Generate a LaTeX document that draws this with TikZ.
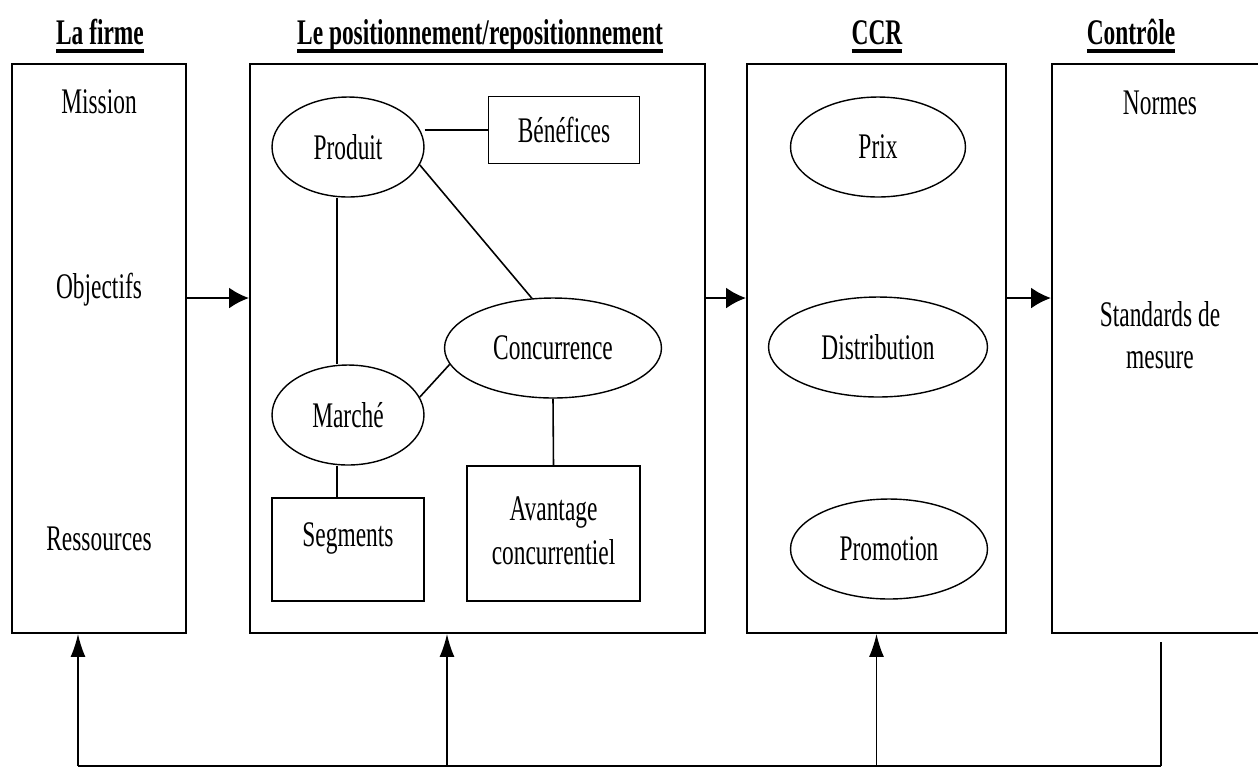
\documentclass[tikz,border=0pt]{standalone}
\usepackage{fontspec}
\setmainfont{Liberation Serif}[FakeStretch=0.65]
\usetikzlibrary{shapes.geometric,arrows.meta}
\newsavebox{\boiteTitre}
\newcommand{\souligne}[1]{\sbox{\boiteTitre}{#1}\rlap{\raisebox{-5pt}{\rule{\wd\boiteTitre}{2pt}}}\usebox{\boiteTitre}}

\begin{document}
\begin{tikzpicture}[
        x=0.02cm, y=-0.02cm,
        every node/.style={font=\fontsize{20.5}{24}\selectfont},
        titre/.style={font=\fontsize{20.5}{24}\selectfont\bfseries},% column heading
        bloc/.style={draw, line width=1.1pt, minimum height=11.38cm, inner sep=0pt},% big column box
        notion/.style={draw, ellipse, line width=0.8pt, minimum height=2cm, inner sep=0pt},% oval item
        cadre/.style={draw, rectangle, line width=0.9pt, inner sep=0pt},% boxed item
        lien/.style={line width=0.9pt},% plain link
        fleche/.style={line width=1.4pt, -{Latex[length=0.4cm, width=0.42cm]}},% arrow between columns
        remonte/.style={line width=0.9pt, -{Latex[length=0.46cm, width=0.3cm]}},% feedback arrow
    ]
    \useasboundingbox (0,0) rectangle (1258,769);

    \node[titre, anchor=base] (tFirme) at (100,44) {\souligne{La firme}};
    \node[titre, anchor=base] (tPosit) at (480,44) {\souligne{Le positionnement/repositionnement}};
    \node[titre, anchor=base] (tCcr) at (877,44) {\souligne{CCR}};
    \node[titre, anchor=base] (tControle) at (1131,44) {\souligne{Contrôle}};

    \node[bloc, minimum width=3.48cm] (firme) at (99,348.5) {};
    \node[bloc, minimum width=9.1cm] (posit) at (477.5,348.5) {};
    \node[bloc, minimum width=5.18cm] (ccr) at (876.5,348.5) {};
    \node[bloc, minimum width=4.4cm] (controle) at (1162,348.5) {};

    % la firme
    \node (mission) at (99,102) {Mission};
    \node (objectifs) at (99,290) {Objectifs};
    \node (ressources) at (99,539) {Ressources};

    % positionnement
    \node[notion, minimum width=3.04cm] (produit) at (348,147) {Produit};
    \node[cadre, minimum width=3.02cm, minimum height=1.34cm] (benefices) at (564,130) {Bénéfices};
    \node[notion, minimum width=4.34cm] (concurrence) at (553,348) {Concurrence};
    \node[notion, minimum width=3.04cm] (marche) at (348,415) {Marché};
    \node[cadre, minimum width=3.04cm, minimum height=2.06cm, text depth=0.6cm] (segments) at (348,549.5) {Segments};
    \node[cadre, minimum width=3.46cm, minimum height=2.7cm] (avantage) at (553.5,533.5)
        {\raisebox{4.5pt}{\fontsize{20.5}{25}\selectfont\begin{tabular}{@{}c@{}}Avantage\\concurrentiel\end{tabular}}};

    % CCR
    \node[notion, minimum width=3.5cm] (prix) at (878,147) {Prix};
    \node[notion, minimum width=4.38cm] (distribution) at (878,347) {Distribution};
    \node[notion, minimum width=3.94cm] (promotion) at (889,549) {Promotion};

    % controle
    \node (normes) at (1160,103) {Normes};
    \node[align=center] (standards) at (1160,335) {Standards de\\mesure};

    \draw[lien] (produit.east |- benefices.west) -- (benefices.west);
    \draw[lien] (produit.-14) -- (concurrence.113);
    \draw[lien] ([xshift=-0.22cm]produit.south) -- ([xshift=-0.22cm]marche.north);
    \draw[lien] (marche.14) -- (concurrence.189);
    \draw[lien] ([xshift=-0.22cm]marche.south) -- ([xshift=-0.22cm]segments.north);
    \draw[lien] (concurrence.south) -- (avantage.north);

    \draw[fleche] ([yshift=1.01cm]firme.east) -- ([yshift=1.01cm]posit.west);
    \draw[fleche] ([yshift=1.01cm]posit.east) -- ([yshift=1.01cm]ccr.west);
    \draw[fleche] ([yshift=1.01cm]ccr.east) -- ([yshift=1.01cm]controle.west);

    % retour
    \coordinate (retour) at (1161,642);
    \coordinate (coinD) at (1161,766);
    \coordinate (coinG) at (78,766);
    \coordinate (pointP) at (447,766);
    \draw[line width=0.6pt] (retour) -- (coinD);
    \draw[line width=1.4pt] (coinD) -- (coinG);
    \draw[remonte] (coinG) -- (coinG |- firme.south);
    \draw[remonte] (pointP) -- (pointP |- posit.south);
    \draw[remonte] (ccr.south |- coinG) -- (ccr.south);
\end{tikzpicture}
\end{document}
